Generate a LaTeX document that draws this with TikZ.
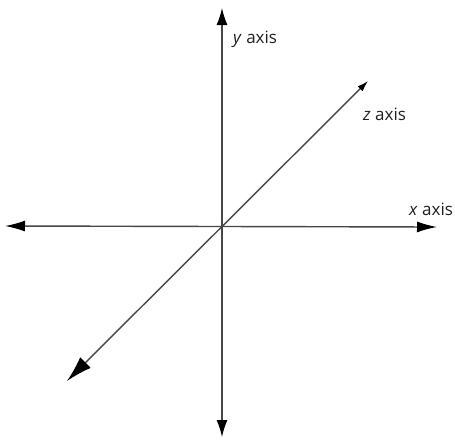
\documentclass[tikz,border=0pt]{standalone}
\usepackage{fontspec}
\setmainfont{Open Sans}
\usetikzlibrary{arrows.meta}

\begin{document}
\begin{tikzpicture}[
  x=1pt,y=-1pt,
  axis/.style={line width=1.4pt,draw=black!72},
  lbl/.style={font=\fontsize{17}{20}\selectfont,text=black!88,inner sep=0pt,anchor=base west}
]
  \useasboundingbox (0,0) rectangle (455,439);
  % axis ends
  \coordinate (O) at (222,227);
  \coordinate (xl) at (5,226);
  \coordinate (xr) at (437,227);
  \coordinate (yt) at (222,8);
  \coordinate (yb) at (222,437);
  \coordinate (zt) at (368,81);
  \coordinate (zb) at (67,381);

  \draw[axis,{Latex[length=20pt,width=11pt,color=black]}-{Latex[length=20pt,width=11pt,color=black]}] (xl) -- (xr);
  \draw[axis,{Latex[length=17pt,width=11pt,color=black]}-{Latex[length=17pt,width=11pt,color=black]}] (yb) -- (yt);
  \draw[axis,{Latex[length=26pt,width=15pt,color=black]}-{Latex[length=11pt,width=7pt,color=black]}] (zb) -- (zt);

  \node[lbl] (ylab) at (233,43) {\textit{y} axis};
  \node[lbl] (zlab) at (363,120) {\textit{z} axis};
  \node[lbl] (xlab) at (409,215) {\textit{x} axis};
\end{tikzpicture}
\end{document}
